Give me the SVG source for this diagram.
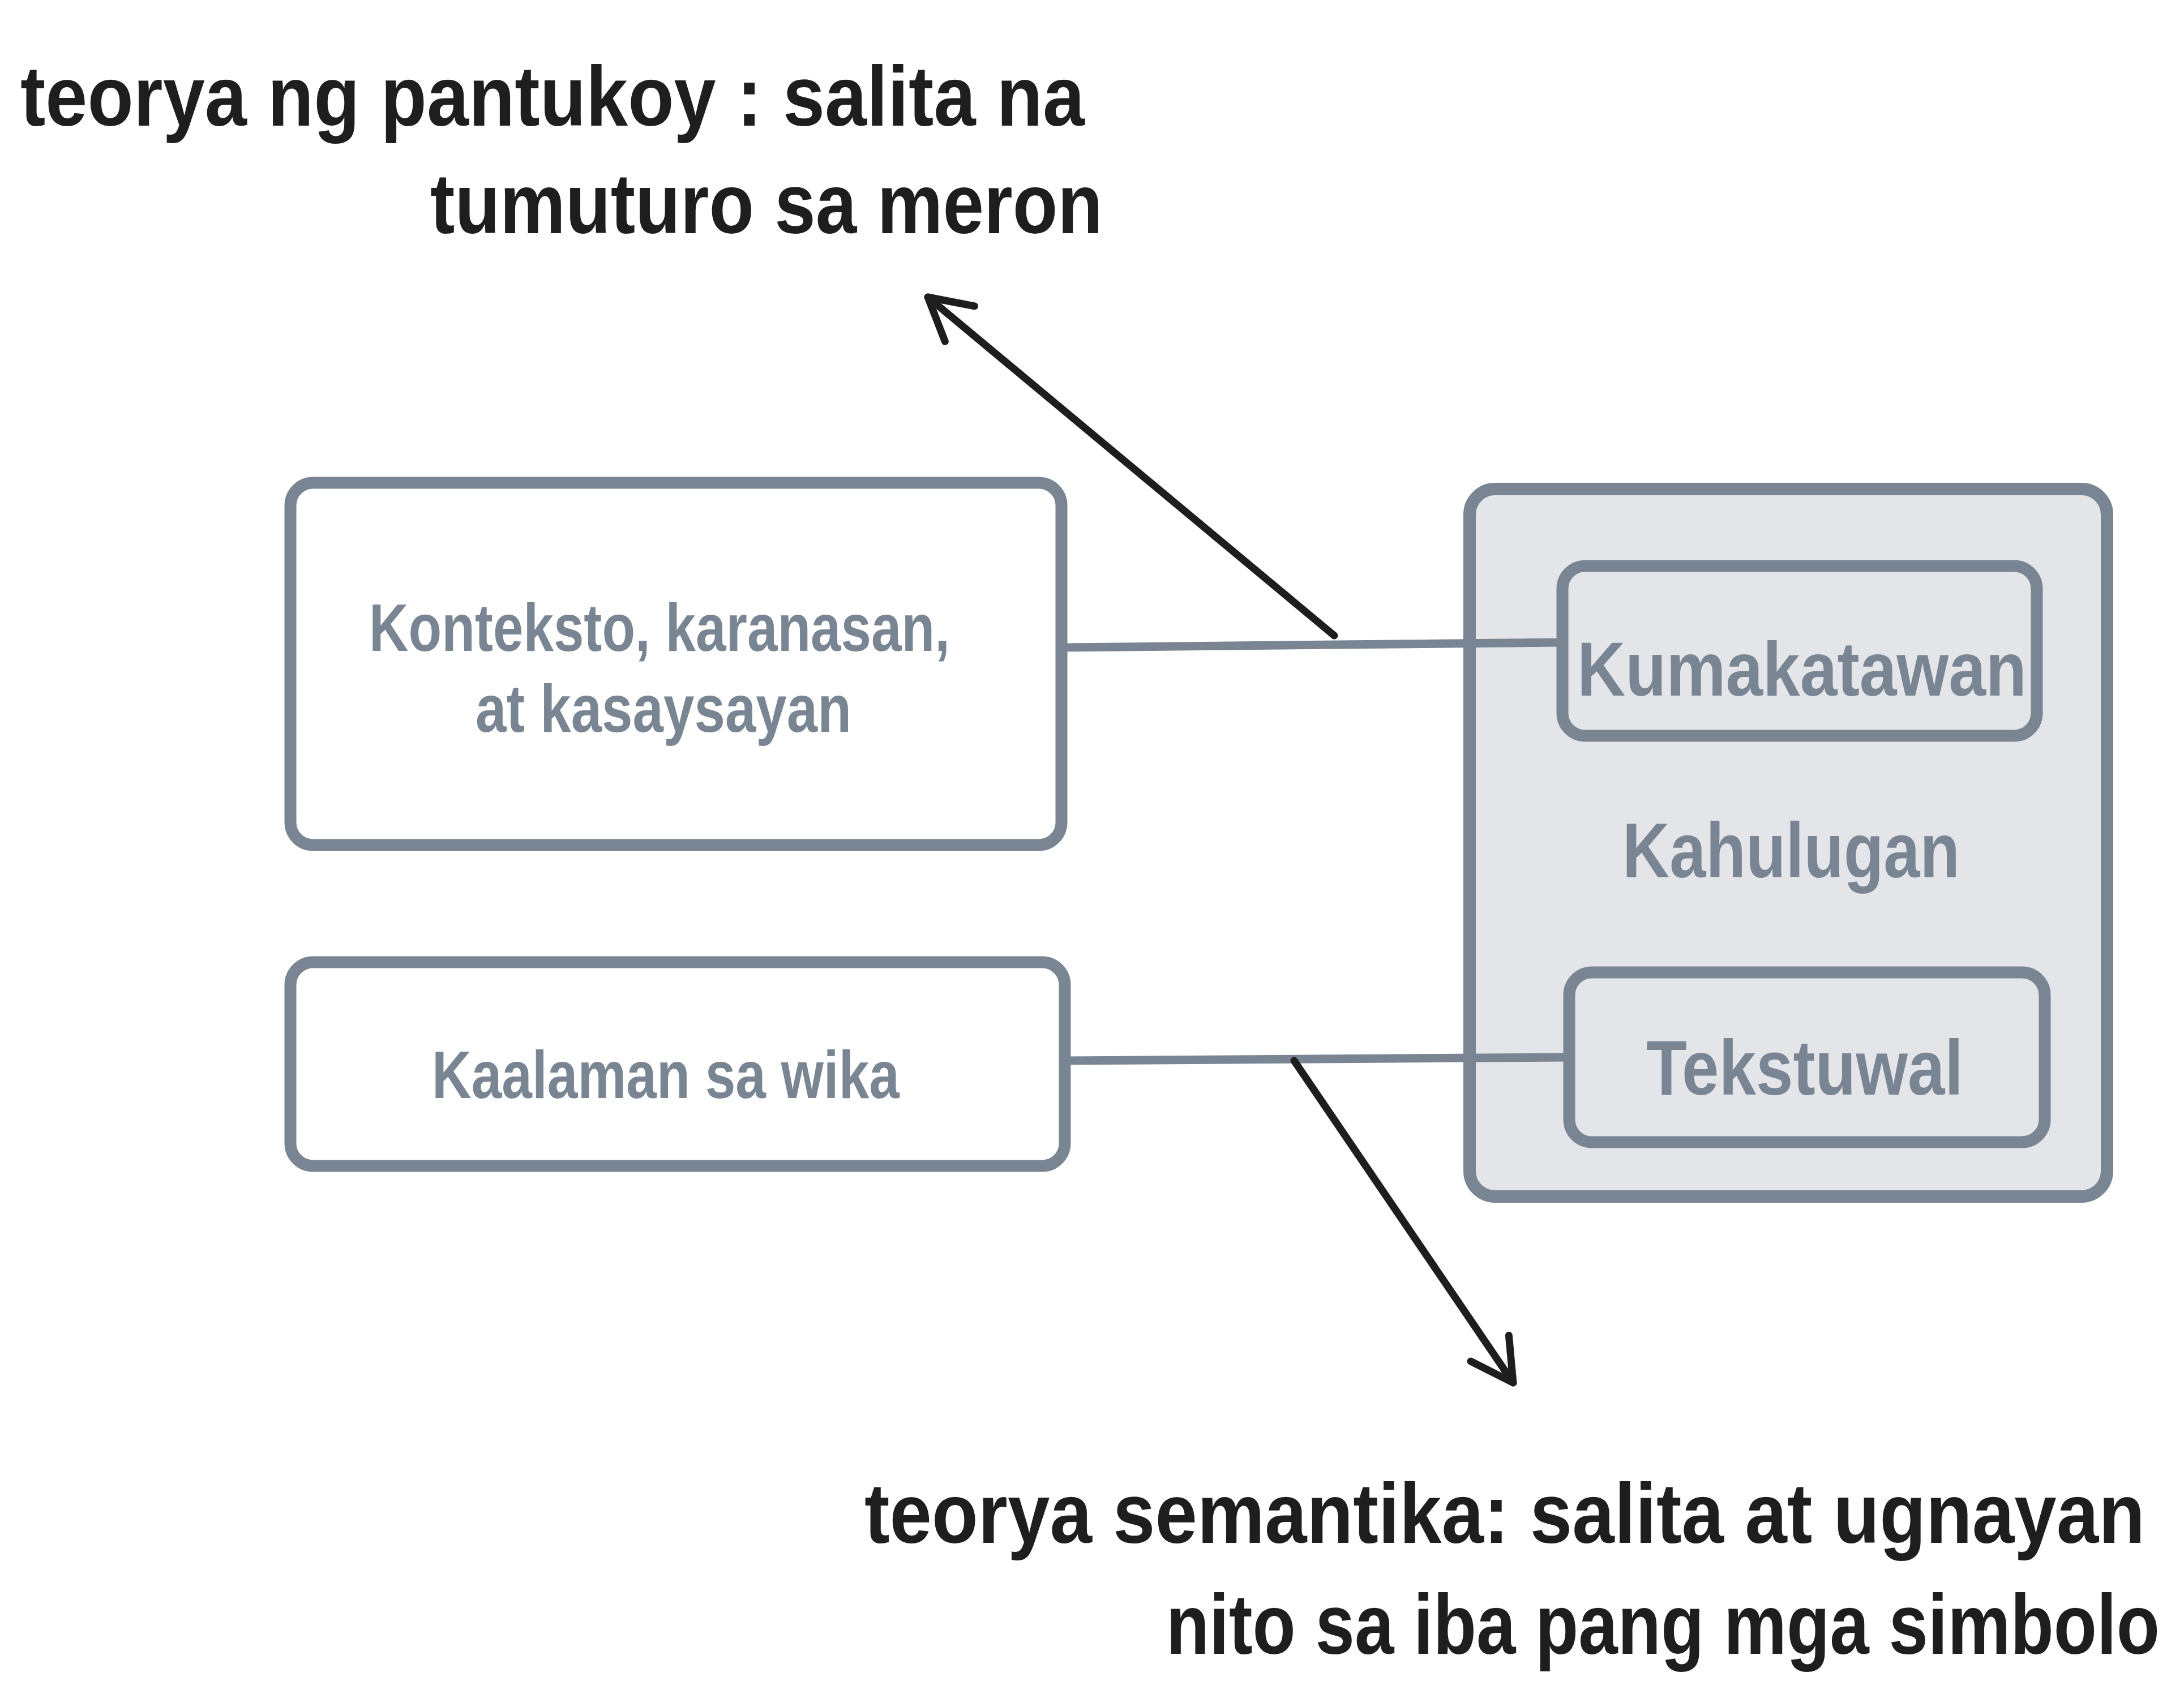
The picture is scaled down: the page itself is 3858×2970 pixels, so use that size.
<svg xmlns="http://www.w3.org/2000/svg" width="3858" height="2970" viewBox="0 0 3858 2970">
<defs>
<style>
.box{fill:#ffffff;stroke:#7a8594;stroke-width:21}
.cont{fill:#e3e5e8;stroke:none}
.contline{fill:none;stroke:#7a8594;stroke-width:22}
.inner{fill:#e3e5e8;stroke:#7a8594;stroke-width:21}
.conn{stroke:#7a8594;stroke-width:15;fill:none;stroke-linecap:round}
.arrow{stroke:#1e1e1e;stroke-width:13;fill:none;stroke-linecap:round}
.gt{font-family:"Liberation Sans",Arial,sans-serif;font-weight:bold;fill:#7a8594}
.bt{font-family:"Liberation Sans",Arial,sans-serif;font-weight:bold;fill:#1e1e1e;font-size:150px}
.end{text-anchor:end}
</style>
<marker id="ah" markerUnits="userSpaceOnUse" orient="auto" viewBox="-100 -60 120 120" markerWidth="120" markerHeight="120" refX="0" refY="0" overflow="visible">
<path d="M -73.5 -40.7 L 0 0 L -73.5 40.7" fill="none" stroke="#1e1e1e" stroke-width="13" stroke-linecap="round" stroke-linejoin="round"/>
</marker>
</defs>
<rect width="3858" height="2970" fill="#ffffff"/>

<g id="node-kahulugan-bg">
<rect class="cont" x="2596" y="864" width="1126" height="1250" rx="45"/>
</g>

<g id="connectors">
<line class="conn" x1="1876" y1="1144" x2="2760" y2="1135"/>
<line class="conn" x1="1881" y1="1874" x2="2772" y2="1868"/>
<line class="arrow" x1="2357" y1="1123" x2="1639" y2="525" marker-end="url(#ah)"/>
<line class="arrow" x1="2286" y1="1874" x2="2673" y2="2443" marker-end="url(#ah)"/>
</g>

<g id="node-kahulugan">
<rect class="contline" x="2596" y="864" width="1126" height="1250" rx="45"/>
<text class="gt" x="2866" y="1550" font-size="138" textLength="596" lengthAdjust="spacingAndGlyphs">Kahulugan</text>
</g>

<g id="node-konteksto">
<rect class="box" x="513" y="853" width="1362" height="640" rx="40"/>
<text class="gt" x="652" y="1150" font-size="118" textLength="1026" lengthAdjust="spacingAndGlyphs">Konteksto, karanasan,</text>
<text class="gt" x="840" y="1293" font-size="118" textLength="664" lengthAdjust="spacingAndGlyphs">at kasaysayan</text>
</g>

<g id="node-kaalaman">
<rect class="box" x="513" y="1700" width="1368" height="360" rx="40"/>
<text class="gt" x="763" y="1940" font-size="118" textLength="826" lengthAdjust="spacingAndGlyphs">Kaalaman sa wika</text>
</g>

<g id="node-kumakatawan">
<rect class="inner" x="2760" y="1000" width="838" height="300" rx="40"/>
<text class="gt" x="2786" y="1229" font-size="135" textLength="794" lengthAdjust="spacingAndGlyphs">Kumakatawan</text>
</g>

<g id="node-tekstuwal">
<rect class="inner" x="2772" y="1718" width="840" height="300" rx="40"/>
<text class="gt" x="2908" y="1934" font-size="138" textLength="560" lengthAdjust="spacingAndGlyphs">Tekstuwal</text>
</g>

<g id="label-pantukoy">
<text class="bt" x="36" y="222" textLength="1880" lengthAdjust="spacingAndGlyphs">teorya ng pantukoy : salita na</text>
<text class="bt end" x="1948" y="412" textLength="1188" lengthAdjust="spacingAndGlyphs">tumuturo sa meron</text>
</g>

<g id="label-semantika">
<text class="bt end" x="3789" y="2726" textLength="2262" lengthAdjust="spacingAndGlyphs">teorya semantika: salita at ugnayan</text>
<text class="bt end" x="3815" y="2922" textLength="1755" lengthAdjust="spacingAndGlyphs">nito sa iba pang mga simbolo</text>
</g>
</svg>
